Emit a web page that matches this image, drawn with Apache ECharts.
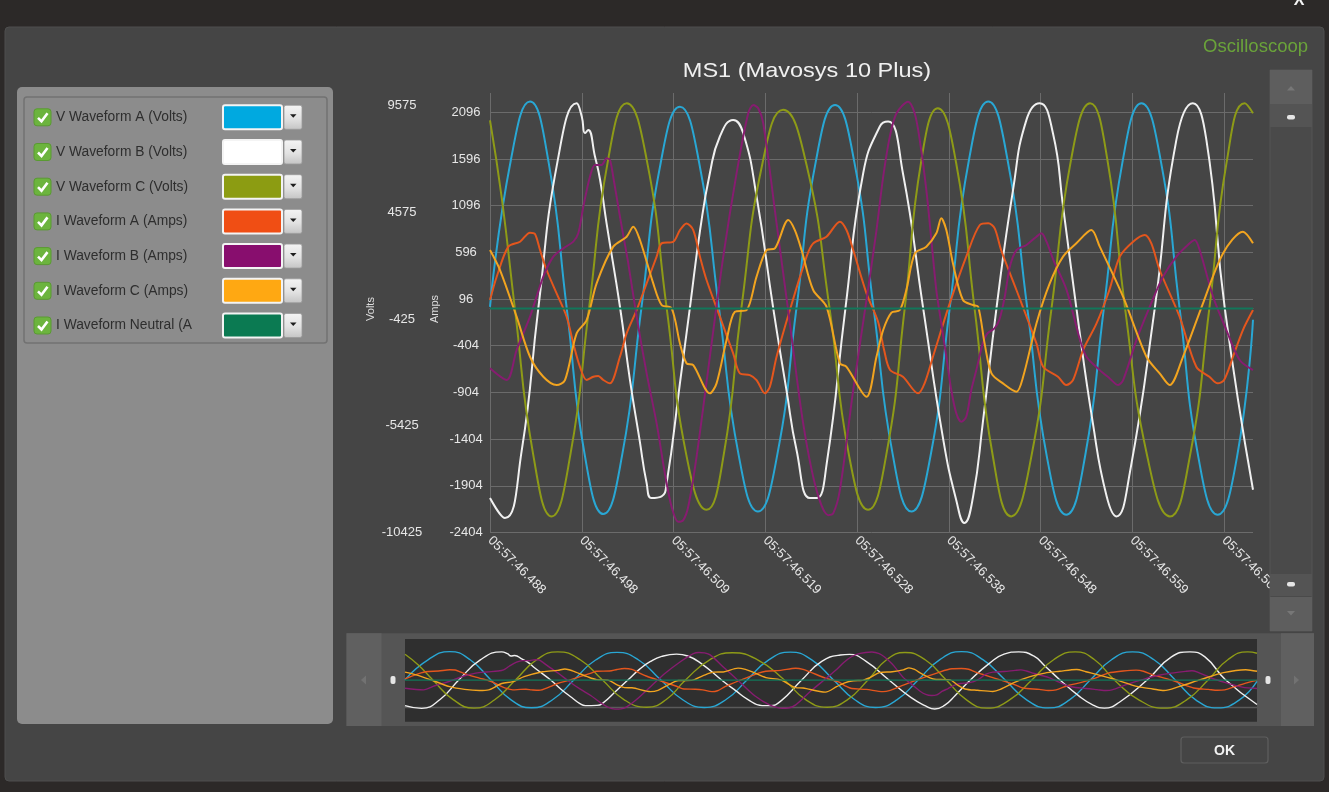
<!DOCTYPE html>
<html><head><meta charset="utf-8">
<script src="https://cdn.jsdelivr.net/npm/echarts@6/dist/echarts.min.js"></script>
<style>html,body{margin:0;padding:0;background:#2c2928;}#c{width:1329px;height:792px;}</style>
</head><body><div id="c"></div>
<script>
// ---------- data ----------
const seriesNames = ['V Waveform A (Volts)','V Waveform B (Volts)','V Waveform C (Volts)','I Waveform A (Amps)','I Waveform B (Amps)','I Waveform C (Amps)','I Waveform Neutral (Amps)'];
const seriesColors = ['#29a7d4','#f0f0f0','#8e9b17','#e4561d','#871c70','#f2a41f','#12775a'];
const swatchColors = ['#00a9e0','#ffffff','#8c9c12','#f04e14','#880e6e','#ffa812','#0b7a52'];
const timeLabels = ['05:57:46.488','05:57:46.498','05:57:46.509','05:57:46.519','05:57:46.528','05:57:46.538','05:57:46.548','05:57:46.559','05:57:46.569'];
const chartTitle = 'MS1 (Mavosys 10 Plus)';
// x = milliseconds after 05:57:46.488
const vA = [[0,150],[2.28,7050],[4.36,9780],[6.36,7000],[8.36,100],[10.35,-6850],[12.35,-9560],[14.4,-6800],[16.5,100],[18.6,6900],[20.7,9540],[22.8,6900],[24.95,100],[27.1,-6800],[29.2,-9440],[31.3,-6800],[33.4,100],[35.5,6950],[37.6,9620],[39.7,6950],[41.8,100],[43.9,-6800],[45.93,-9440],[48.0,-6850],[50.1,100],[52.2,7050],[54.3,9780],[56.4,7050],[58.55,100],[60.7,-6900],[62.8,-9590],[64.85,-6850],[66.9,100],[68.95,7000],[71.0,9700],[73.1,7000],[75.15,100],[77.2,-6900],[79.3,-9590],[81.4,-6900],[83.15,-450]];
const vB = [[0,-8810],[1.63,-9750],[3.45,-6600],[5.27,110],[7.35,6950],[9.44,9700],[10.0,9075],[10.35,8300],[10.7,8450],[11.44,7200],[12.0,6100],[12.7,4080],[14.16,170],[15.25,-3265],[16.3,-6080],[17.07,-8110],[17.6,-8810],[18.7,-8730],[19.25,-8110],[20.7,-3420],[21.8,170],[22.9,3760],[23.96,6420],[25.05,8140],[26.5,8920],[27.6,8290],[29.05,5330],[30.86,110],[32.3,-3730],[33.4,-6545],[34.86,-8810],[35.6,-8810],[36.7,-7170],[38.74,110],[40.67,6420],[42.48,8610],[43.39,8840],[45.0,6420],[47.2,110],[49.4,-6080],[50.8,-8890],[51.7,-9980],[52.65,-8730],[53.7,-5300],[55.2,110],[57.0,5640],[58.46,8920],[59.9,9700],[61.35,8290],[62.45,4860],[63.9,110],[65.7,-5300],[67.2,-8730],[68.26,-9670],[69.72,-7640],[72.45,110],[74.8,7980],[76.6,9700],[78.07,7980],[80.07,110],[83.15,-8420]];
const vC = [[0,8900],[1.3,5200],[2.7,110],[4.7,-6750],[6.72,-9670],[8.75,-6800],[10.8,110],[12.85,7000],[14.9,9700],[17.1,7000],[19.25,110],[21.4,-6800],[23.6,-9360],[25.5,-6700],[27.4,110],[29.7,6900],[31.95,9390],[34.5,6800],[37.0,110],[39.1,-6750],[41.2,-9360],[43.2,-6750],[45.2,110],[47.0,7000],[48.8,9470],[50.8,6900],[52.8,110],[54.8,-6850],[56.8,-9670],[59.0,-6850],[61.2,110],[63.3,7000],[65.4,9700],[67.3,7000],[69.2,110],[71.65,-6900],[74.1,-9670],[76.25,-6900],[78.4,110],[80.3,7000],[82.25,9700],[83.15,9230]];
const iA = [[0,85],[0.73,335],[2.0,657],[3.27,710],[4.36,807],[4.9,792],[5.45,621],[6.17,407],[7.26,157],[8.35,-93],[9.08,-379],[9.8,-629],[10.53,-771],[11.26,-736],[11.8,-729],[12.35,-771],[13.07,-807],[14.16,-522],[14.89,-272],[15.98,-22],[17.07,264],[18.16,550],[18.7,692],[19.97,710],[20.7,835],[21.42,906],[22.15,835],[22.88,550],[23.6,300],[25.05,-93],[26.5,-486],[27.23,-700],[28.32,-718],[29.05,-771],[29.96,-914],[30.5,-843],[31.23,-522],[32.68,-22],[34.5,550],[35.22,692],[36.67,764],[38.13,925],[38.85,835],[39.58,621],[41.03,157],[42.3,-150],[42.95,-450],[43.6,-664],[45.0,-736],[46.65,-914],[47.36,-807],[48.27,-522],[50.1,50],[51.9,550],[53.38,889],[54.3,907],[55.0,853],[55.7,621],[57.37,193],[59.55,-379],[60.28,-629],[61.9,-736],[62.8,-825],[63.54,-771],[64.63,-450],[66.1,-165],[67.5,193],[68.63,550],[70.08,710],[71.35,782],[72.07,692],[72.98,407],[75.15,-93],[76.97,-629],[78.4,-736],[79.3,-807],[80.0,-771],[80.97,-522],[82.05,-236],[83.15,-22]];
const iB = [[0,-646],[1.82,-771],[2.9,-450],[4.36,-93],[5.81,336],[6.9,550],[7.99,639],[9.08,711],[9.62,800],[10.17,1085],[10.89,1406],[11.44,1531],[12.16,1531],[12.71,1603],[13.07,1585],[13.43,1406],[14.16,978],[15.07,478],[15.98,-93],[17.07,-700],[18.16,-1236],[19.06,-1772],[19.79,-2129],[20.5,-2290],[21.06,-2272],[21.6,-2129],[22.51,-1594],[23.96,-522],[25.42,550],[26.87,1442],[28.14,2085],[28.69,2174],[29.23,2139],[29.78,1978],[31.23,906],[32.68,-165],[34.13,-1236],[35.58,-1950],[36.86,-2218],[37.4,-2200],[38.13,-1950],[39.58,-879],[41.2,200],[42.12,835],[42.85,1406],[43.57,1835],[44.3,2085],[45.56,2210],[46.28,2085],[46.83,1800],[47.55,1264],[48.1,728],[48.64,192],[49.18,-165],[49.73,-522],[50.27,-879],[50.82,-1129],[51.37,-1218],[51.9,-1165],[52.45,-879],[53.0,-665],[53.7,-379],[54.2,-272],[54.97,-218],[55.5,-129],[56.1,121],[56.65,442],[57.37,621],[58.46,675],[59.55,764],[60.1,800],[60.65,710],[61.4,514],[62.84,192],[64.3,-343],[65.0,-522],[66.45,-665],[67.54,-754],[68.45,-825],[69.0,-771],[70.45,-343],[71.9,14],[73.35,336],[74.8,550],[76.25,693],[76.8,728],[77.34,621],[78.8,121],[80.25,-236],[81.7,-557],[83.15,-664]];
const iC = [[0,621],[1.09,407],[2.9,-93],[4.36,-522],[5.81,-736],[7.26,-825],[8.17,-772],[9.44,-272],[10.53,-129],[11.62,264],[13.43,657],[14.89,764],[15.61,871],[16.34,728],[17.79,264],[18.7,32],[19.79,-4],[20.7,-379],[21.42,-593],[22.15,-611],[23.96,-914],[24.69,-807],[25.78,-343],[26.69,-40],[27.96,-22],[29.05,336],[30.14,621],[31.05,639],[32.5,942],[33.22,835],[33.95,621],[35.22,193],[36.67,14],[38.13,-593],[38.85,-629],[41.03,-950],[42.12,-522],[42.85,-236],[43.75,-50],[44.66,-22],[45.37,193],[46.3,585],[47.55,657],[48.64,800],[49.18,961],[49.73,835],[50.45,478],[51.54,86],[52.63,32],[53.2,14],[53.9,-379],[54.65,-700],[55.9,-807],[57.37,-896],[58.1,-736],[59.55,-165],[61.0,264],[62.45,550],[63.9,693],[65.54,835],[66.45,657],[68.99,121],[71.54,-522],[72.98,-700],[74.07,-825],[75.52,-522],[77.7,50],[79.88,585],[82.05,817],[83.15,693]];
const iN = [[0,-4],[20,-4],[40,-4],[60,-4],[83.15,-4]];
const seriesData = [vA, vB, vC, iA, iB, iC, iN];
const seriesUnit = ['V','V','V','A','A','A','A'];

// ---------- chrome ----------
const G = [];
const FONT = '"Liberation Sans", Arial, sans-serif';
function R(x,y,w,h,fill,o){o=o||{};G.push({type:'rect',silent:true,z:o.z!=null?o.z:-10,shape:{x:x,y:y,width:w,height:h,r:o.r||0},style:{fill:fill,stroke:o.stroke||null,lineWidth:o.lw||0}});}
function T(x,y,t,size,fill,o){o=o||{};G.push({type:'text',silent:true,z:o.z!=null?o.z:5,x:x,y:y,rotation:o.rot||0,scaleX:o.sx||1,scaleY:o.sy||1,style:{text:t,fill:fill,fontSize:size,fontFamily:FONT,fontWeight:o.bold?'bold':'normal',align:o.align||'left',verticalAlign:'middle',textAlign:o.align||'left',textVerticalAlign:'middle',width:o.width,overflow:o.width?'truncate':'none',ellipsis:''}});}
function P(pts,fill,z){G.push({type:'polygon',silent:true,z:z!=null?z:5,shape:{points:pts},style:{fill:fill}});}
function L(x1,y1,x2,y2,stroke,lw,z){G.push({type:'line',silent:true,z:z!=null?z:-5,shape:{x1:x1,y1:y1,x2:x2,y2:y2},style:{stroke:stroke,lineWidth:lw}});}

// window
R(5,27,1319,754,'#454545',{r:4,stroke:'#4e4e4e',lw:1,z:-20});
T(1299,1,'X',16,'#f4f4f4',{bold:true,align:'center'});
T(1308,47,'Oscilloscoop',18.5,'#6aa33a',{align:'right'});
T(807,71,chartTitle,21,'#f0f0f0',{align:'center',sx:1.12});
// left panel + legend
R(17,87,316,637,'#8c8c8c',{r:5});
R(24,97,303,246,'#8c8c8c',{r:3,stroke:'#727272',lw:1.5,z:-9});
seriesNames.forEach(function(n,i){
  const cy = 117.3 + 34.7*i;
  R(34,cy-8.5,17,17,'#6cb43e',{r:3,stroke:'#5a9a32',lw:1,z:-8});
  G.push({type:'polyline',silent:true,z:-7,shape:{points:[[38,cy+0.5],[41.5,cy+4],[47.5,cy-4]]},style:{stroke:'#ffffff',lineWidth:2.6,fill:null}});
  T(56,cy,n,13.8,'#2e2e2e',{width:145});
  R(223,cy-12,59,24,swatchColors[i],{r:2,stroke:'#f4f4f4',lw:2,z:-8});
  G.push({type:'rect',silent:true,z:-8,shape:{x:284,y:cy-12,width:18,height:24,r:2},style:{fill:new echarts.graphic.LinearGradient(0,0,0,1,[{offset:0,color:'#f4f4f4'},{offset:0.55,color:'#e2e2e2'},{offset:1,color:'#c4c4c4'}]),stroke:'#9a9a9a',lineWidth:0.8}});
  P([[290,cy-3],[296.5,cy-3],[293.25,cy+0.5]],'#1e1e1e',-7);
});
// axis names
T(371,309,'Volts',11,'#dedede',{align:'center',rot:Math.PI/2});
T(435,309,'Amps',11,'#dedede',{align:'center',rot:Math.PI/2});
// vertical scrollbar
R(1270,70,42,561,'#4a4a4a',{stroke:'#555555',lw:1,z:50});
R(1270,70,42,34,'#5e5e5e',{z:51});
P([[1287,90.5],[1295,90.5],[1291,86]],'#777777',52);
R(1270,104,42,23,'#545454',{z:51});
R(1287,115,8,4.5,'#e6e6e6',{r:2,z:52});
R(1270,574,42,22,'#545454',{z:51});
R(1287,582,8,4.5,'#e6e6e6',{r:2,z:52});
R(1270,597,42,34,'#5e5e5e',{z:51});
P([[1287,611],[1295,611],[1291,615.5]],'#777777',52);
// navigator
R(346.5,633.3,967.5,92.7,'#555555',{z:-9});
R(346.5,633.3,35,92.7,'#606060',{z:-8});
R(1281,633.3,33,92.7,'#606060',{z:-8});
R(405,639,852,82.7,'#2f2f2f',{z:-8});
L(405,707.5,1257,707.5,'#5a5a5a',1.5,-6);
R(390.5,676,5,8,'#e6e6e6',{r:2,z:-7});
R(1265.5,676,5,8,'#e6e6e6',{r:2,z:-7});
P([[361,680],[366,675.5],[366,684.5]],'#727272',-7);
P([[1299,680],[1294,675.5],[1294,684.5]],'#727272',-7);
// OK button
R(1181,737,87,26,'#454545',{r:3,stroke:'#5f5f5f',lw:1.2,z:-8});
T(1224.5,751,'OK',14,'#f2f2f2',{bold:true,align:'center'});

// ---------- series ----------
const series = [];
seriesData.forEach(function(d,i){
  const isV = seriesUnit[i]==='V';
  series.push({type:'line',name:seriesNames[i],data:d,xAxisIndex:isV?1:0,yAxisIndex:isV?1:0,
    smooth:isV?0.5:0.3,symbol:'none',showSymbol:false,animation:false,z:2+i*0.01,
    lineStyle:{color:seriesColors[i],width:2},itemStyle:{color:seriesColors[i]}});
  series.push({type:'line',name:seriesNames[i]+' nav',data:d,xAxisIndex:isV?2:3,yAxisIndex:isV?2:3,
    smooth:isV?0.5:0.3,symbol:'none',showSymbol:false,animation:false,z:2,
    lineStyle:{color:seriesColors[i],width:1.4},itemStyle:{color:seriesColors[i]}});
});

const gridColor = '#6b6b6b';
const lblColor = '#e6e6e6';
const plainNum = function(v){return String(Math.round(v));};
const option = {
  backgroundColor:'#2c2928',
  animation:false,
  grid:[
    {left:490,right:76,top:93,bottom:259.5},
    {left:490,right:76,top:93,bottom:259.5},
    {left:405,right:72,top:650.5,bottom:81.7},
    {left:405,right:72,top:650.8,bottom:81.4}
  ],
  xAxis:[
    {gridIndex:0,type:'value',min:0,max:83.15,interval:10,
      axisLine:{show:true,lineStyle:{color:gridColor,width:1}},axisTick:{show:false},splitLine:{show:false},
      axisLabel:{rotate:-45,margin:6,fontSize:13,fontFamily:FONT,color:lblColor,showMaxLabel:false,
        formatter:function(v){return timeLabels[Math.round(v/10)]||'';}}},
    {gridIndex:1,type:'value',min:0,max:83.15,interval:10,
      axisLine:{show:false},axisTick:{show:false},axisLabel:{show:false},
      splitLine:{show:true,showMaxLine:false,lineStyle:{color:gridColor,width:1}}},
    {gridIndex:2,type:'value',min:0,max:83.15,show:false},
    {gridIndex:3,type:'value',min:0,max:83.15,show:false}
  ],
  yAxis:[
    {gridIndex:0,type:'value',min:-2404,max:2302.6,interval:500,
      axisLine:{show:false},axisTick:{show:false},
      splitLine:{show:true,showMaxLine:false,lineStyle:{color:gridColor,width:1}},
      axisLabel:{align:'center',margin:24,fontSize:13,fontFamily:FONT,color:lblColor,showMaxLabel:false,formatter:plainNum}},
    {gridIndex:1,type:'value',min:-10425,max:10180,interval:5000,
      axisLine:{show:false},axisTick:{show:false},splitLine:{show:false},
      axisLabel:{align:'center',margin:88,fontSize:13,fontFamily:FONT,color:lblColor,showMaxLabel:false,formatter:plainNum}},
    {gridIndex:2,type:'value',min:-10425,max:10180,show:false},
    {gridIndex:3,type:'value',min:-2404,max:2302.6,show:false}
  ],
  graphic:{elements:G},
  series:series
};
const chart = echarts.init(document.getElementById('c'),null,{renderer:'canvas'});
chart.setOption(option);
</script></body></html>
